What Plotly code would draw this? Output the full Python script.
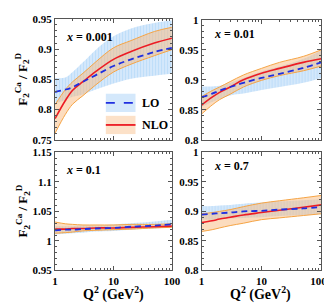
import plotly.graph_objects as go

Q2 = [1, 1.5, 2, 3, 5, 10, 20, 50, 100]

# panel x = 0.001
p1_lo = [0.829, 0.833, 0.837, 0.846, 0.857, 0.872, 0.883, 0.895, 0.902]
p1_lo_up = [0.852, 0.853, 0.862, 0.878, 0.899, 0.921, 0.934, 0.943, 0.947]
p1_lo_dn = [0.810, 0.816, 0.821, 0.825, 0.833, 0.843, 0.851, 0.856, 0.859]
p1_nlo = [0.785, 0.815, 0.832, 0.846, 0.863, 0.883, 0.896, 0.910, 0.918]
p1_nlo_up = [0.808, 0.833, 0.846, 0.860, 0.879, 0.902, 0.914, 0.929, 0.936]
p1_nlo_dn = [0.761, 0.792, 0.809, 0.823, 0.841, 0.862, 0.875, 0.889, 0.899]

# panel x = 0.01
p2_lo = [0.871, 0.877, 0.882, 0.888, 0.895, 0.903, 0.910, 0.920, 0.929]
p2_lo_up = [0.889, 0.889, 0.890, 0.895, 0.903, 0.914, 0.922, 0.935, 0.949]
p2_lo_dn = [0.855, 0.863, 0.868, 0.874, 0.877, 0.883, 0.888, 0.895, 0.903]
p2_nlo = [0.858, 0.871, 0.879, 0.888, 0.900, 0.911, 0.919, 0.929, 0.935]
p2_nlo_up = [0.872, 0.882, 0.888, 0.897, 0.908, 0.919, 0.929, 0.939, 0.950]
p2_nlo_dn = [0.843, 0.858, 0.867, 0.876, 0.888, 0.899, 0.907, 0.915, 0.923]

# panel x = 0.1
p3_lo = [1.018, 1.019, 1.019, 1.020, 1.021, 1.022, 1.024, 1.026, 1.028]
p3_lo_up = [1.025, 1.025, 1.025, 1.026, 1.026, 1.028, 1.030, 1.033, 1.036]
p3_lo_dn = [1.011, 1.012, 1.013, 1.014, 1.016, 1.017, 1.019, 1.021, 1.023]
p3_nlo = [1.020, 1.020, 1.021, 1.021, 1.022, 1.022, 1.023, 1.024, 1.025]
p3_nlo_up = [1.032, 1.029, 1.028, 1.027, 1.027, 1.027, 1.028, 1.028, 1.029]
p3_nlo_dn = [1.013, 1.014, 1.015, 1.017, 1.018, 1.019, 1.020, 1.022, 1.023]

# panel x = 0.7
p4_lo = [0.8946, 0.896, 0.897, 0.898, 0.900, 0.901, 0.903, 0.905, 0.9076]
p4_lo_up = [0.909, 0.909, 0.910, 0.911, 0.913, 0.915, 0.917, 0.919, 0.921]
p4_lo_dn = [0.886, 0.886, 0.887, 0.888, 0.889, 0.890, 0.892, 0.894, 0.895]
p4_nlo = [0.881, 0.884, 0.887, 0.890, 0.894, 0.898, 0.902, 0.907, 0.911]
p4_nlo_up = [0.896, 0.898, 0.900, 0.903, 0.908, 0.914, 0.918, 0.923, 0.927]
p4_nlo_dn = [0.866, 0.869, 0.872, 0.876, 0.880, 0.886, 0.889, 0.893, 0.896]

panels = [
    ("x = 0.001", p1_lo, p1_lo_up, p1_lo_dn, p1_nlo, p1_nlo_up, p1_nlo_dn),
    ("x = 0.01", p2_lo, p2_lo_up, p2_lo_dn, p2_nlo, p2_nlo_up, p2_nlo_dn),
    ("x = 0.1", p3_lo, p3_lo_up, p3_lo_dn, p3_nlo, p3_nlo_up, p3_nlo_dn),
    ("x = 0.7", p4_lo, p4_lo_up, p4_lo_dn, p4_nlo, p4_nlo_up, p4_nlo_dn),
]
y_ranges = [[0.75, 0.95], [0.8, 1.0], [0.95, 1.15], [0.8, 1.0]]
y_ticks = [
    [0.75, 0.8, 0.85, 0.9, 0.95],
    [0.8, 0.85, 0.9, 0.95, 1.0],
    [0.95, 1.0, 1.05, 1.1, 1.15],
    [0.8, 0.85, 0.9, 0.95, 1.0],
]
y_ticktext = [
    ["0.75", "0.8", "0.85", "0.9", "0.95"],
    ["0.8", "0.85", "0.9", "0.95", "1"],
    ["0.95", "1", "1.05", "1.1", "1.15"],
    ["0.8", "0.85", "0.9", "0.95", "1"],
]
x_ticks = [1, 10, 100]
x_ticktext = ["1", "10", "100"]

W, H = 332, 304
FONT = "Liberation Serif"
BLUE_BG = "#d4e8fb"
BLUE_HATCH = "#a7d2f7"
ORANGE_FILL = "rgba(250,185,125,0.5)"
ORANGE_EDGE = "#f5a445"
RED = "#ec1c24"
BLUE = "#1f2fe0"
AXC = "#555555"

# pixel boxes of panels: (left, right, top, bottom)
boxes = [(46, 168, 5, 131), (199, 324, 6, 131), (46, 168, 144, 267), (199, 324, 144, 267)]

fig = go.Figure()
layout = dict(width=W, height=H, margin=dict(l=0, r=0, t=0, b=0),
              paper_bgcolor="white", plot_bgcolor="white", showlegend=False)

for i, (lab, lo, lo_up, lo_dn, nlo, nlo_up, nlo_dn) in enumerate(panels):
    k = "" if i == 0 else str(i + 1)
    xa, ya = "x" + k, "y" + k
    # LO band (hatched)
    fig.add_trace(go.Scatter(x=Q2, y=lo_dn, mode="lines", line=dict(width=0, shape="spline"),
                             xaxis=xa, yaxis=ya, hoverinfo="skip"))
    fig.add_trace(go.Scatter(x=Q2, y=lo_up, mode="lines", line=dict(width=0, shape="spline"),
                             fill="tonexty", fillcolor=BLUE_BG,
                             fillpattern=dict(shape="|", fgcolor=BLUE_HATCH, bgcolor=BLUE_BG,
                                              size=3, solidity=0.35),
                             xaxis=xa, yaxis=ya, hoverinfo="skip"))
    # NLO band
    fig.add_trace(go.Scatter(x=Q2, y=nlo_dn, mode="lines",
                             line=dict(width=1, color=ORANGE_EDGE, shape="spline"),
                             xaxis=xa, yaxis=ya, hoverinfo="skip"))
    fig.add_trace(go.Scatter(x=Q2, y=nlo_up, mode="lines",
                             line=dict(width=1, color=ORANGE_EDGE, shape="spline"),
                             fill="tonexty", fillcolor=ORANGE_FILL,
                             xaxis=xa, yaxis=ya, hoverinfo="skip"))
    # central lines
    fig.add_trace(go.Scatter(x=Q2, y=nlo, mode="lines", name="NLO",
                             line=dict(width=1.6, color=RED, shape="spline"),
                             xaxis=xa, yaxis=ya))
    fig.add_trace(go.Scatter(x=Q2, y=lo, mode="lines", name="LO",
                             line=dict(width=1.8, color=BLUE, dash="6px,4px", shape="spline"),
                             xaxis=xa, yaxis=ya))

    l, r, t, b = boxes[i]
    bottom = i >= 2
    ttext = list(x_ticktext)
    if i == 3:
        ttext[-1] = ttext[-1] + "&nbsp;&nbsp;"
    layout["xaxis" + k] = dict(
        type="log", range=[0, 2], domain=[l / W, r / W], anchor=ya,
        tickmode="array", tickvals=x_ticks, ticktext=ttext,
        showticklabels=bottom, ticks="inside", ticklen=4, tickcolor=AXC,
        ticklabeloverflow="allow",
        minor=dict(ticks="inside", ticklen=2, tickcolor=AXC,
                   tickmode="array",
                   tickvals=[2, 3, 4, 5, 6, 7, 8, 9, 20, 30, 40, 50, 60, 70, 80, 90]),
        showline=True, linecolor=AXC, linewidth=1, mirror="allticks",
        showgrid=False, zeroline=False,
        tickfont=dict(family=FONT, size=11, color="black", weight="bold"),
    )
    layout["yaxis" + k] = dict(
        range=y_ranges[i], domain=[1 - b / H, 1 - t / H], anchor=xa,
        tickmode="array", tickvals=y_ticks[i], ticktext=y_ticktext[i],
        ticks="inside", ticklen=4, tickcolor=AXC,
        ticklabeloverflow="allow",
        minor=dict(ticks="inside", ticklen=2, tickcolor=AXC, dtick=0.01),
        showline=True, linecolor=AXC, linewidth=1, mirror="allticks",
        showgrid=False, zeroline=False,
        tickfont=dict(family=FONT, size=11, color="black", weight="bold"),
    )

annots = []
lab_pos = [(55, 24), (210, 21), (55, 162), (210, 158)]
for (lab, *_), (px, py) in zip(panels, lab_pos):
    txt = "<i>x</i>" + lab[1:]
    annots.append(dict(x=px / W, y=1 - py / H, xref="paper", yref="paper",
                       text="<b>" + txt + "</b>", showarrow=False,
                       xanchor="left", yanchor="middle",
                       font=dict(family=FONT, size=12, color="black")))

ytitle = "<b>F<sub>2</sub><sup>Ca</sup> / F<sub>2</sub><sup>D</sup></b>"
for cy in [68, 205]:
    annots.append(dict(x=12 / W, y=1 - cy / H, xref="paper", yref="paper",
                       text=ytitle, showarrow=False, textangle=-90,
                       xanchor="center", yanchor="middle",
                       font=dict(family=FONT, size=13, color="black")))
for cx in [107, 261]:
    annots.append(dict(x=cx / W, y=1 - 291 / H, xref="paper", yref="paper",
                       text="<b>Q<sup>2</sup> (GeV<sup>2</sup>)</b>", showarrow=False,
                       xanchor="center", yanchor="middle",
                       font=dict(family=FONT, size=14, color="black")))

# legend (drawn in panel 1)
shapes = []
leg = [("LO", 83, 102, BLUE, "dash", BLUE_BG), ("NLO", 106, 125, RED, "solid", "rgba(250,200,155,0.55)")]
for name, t, b, col, dash, bg in leg:
    shapes.append(dict(type="rect", xref="paper", yref="paper",
                       x0=99 / W, x1=130 / W, y0=1 - b / H, y1=1 - t / H,
                       fillcolor=bg, line=dict(width=0), layer="above"))
    ym = 1 - (t + b) / 2 / H
    shapes.append(dict(type="line", xref="paper", yref="paper",
                       x0=99 / W, x1=130 / W, y0=ym, y1=ym,
                       line=dict(color=col, width=1.8, dash=dash), layer="above"))
    annots.append(dict(x=135 / W, y=ym, xref="paper", yref="paper",
                       text="<b>" + name + "</b>", showarrow=False,
                       xanchor="left", yanchor="middle",
                       font=dict(family=FONT, size=12, color="black")))

layout["annotations"] = annots
layout["shapes"] = shapes
fig.update_layout(**layout)
fig.write_html("out.html")
